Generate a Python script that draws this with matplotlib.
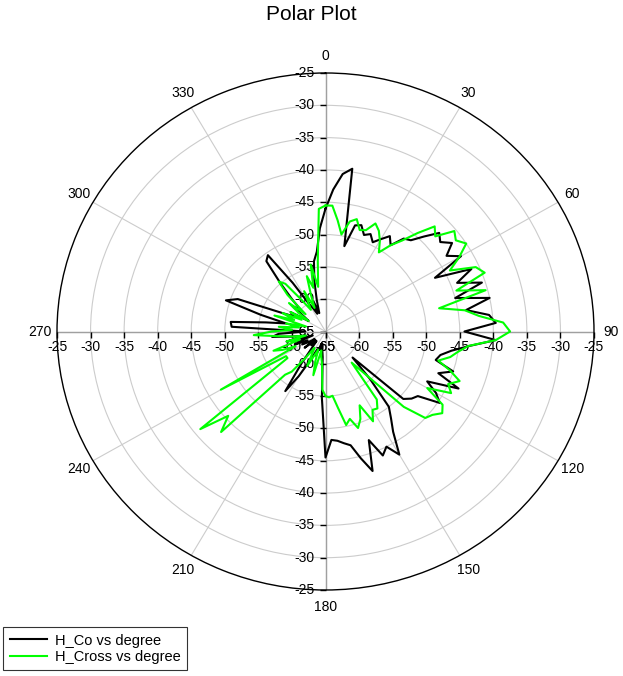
import numpy as np
import matplotlib.pyplot as plt

plt.rcParams['font.family'] = ['Liberation Sans', 'DejaVu Sans']

# angle in degrees, one sample every 3 degrees
degree = list(range(0, 360, 3))

h_co = [-46, -43, -40.5, -39.5, -51.5, -48, -47.7, -49, -48.5, -49.5,
        -48.5, -47.4, -48.5, -46.5, -46, -44.2, -42.2, -43, -41.7, -43.5,
        -41.7, -46.7, -41.2, -44, -40.5, -45, -40, -43.8, -40.5, -39.6,
        -44.3, -39.6, -43.5, -46, -47.5, -48, -45, -47, -43.3, -48,
        -46, -44.7, -48, -48.5, -49.4, -59.3, -55, -50, -48.4, -46.5,
        -43, -45, -44, -47, -42.3, -44.7, -47, -47.5, -48, -48.2,
        -45.5, -54.7, -61, -62, -63, -62, -63, -61, -62, -60,
        -57, -54, -59, -62, -63, -62, -63, -61, -63, -62,
        -61, -62, -60, -61, -63, -59, -62, -60, -57, -58,
        -62, -51, -50.8, -56, -59, -55, -49.4, -51, -58, -60,
        -59, -62, -61, -59, -60, -58, -55, -51, -50.4, -56,
        -60, -61, -62, -60, -62, -60, -57, -54, -52.6, -49]

h_cross = [-45.5, -45.5, -47.7, -49.8, -47.6, -47, -48.5, -48.2, -46.7, -47.5,
           -48.8, -50.4, -48.5, -46.9, -44.5, -42, -43, -40.3, -41, -40,
           -42, -44.2, -40.5, -39.6, -44.5, -40.3, -47.7, -44, -42, -38.5,
           -37.5, -39.6, -43.6, -45, -46, -47.6, -45.5, -43.6, -45, -44,
           -47.5, -44.2, -43.5, -44.5, -45, -48.5, -56, -58.8, -52, -50.8,
           -51, -49.4, -52.5, -50.5, -49.3, -51, -50.2, -53, -55, -54.8,
           -55, -56, -60, -61, -62, -58, -60, -62, -61, -59,
           -61, -62, -60, -57, -56, -43, -45.5, -41, -58, -58,
           -47, -60, -58, -56.7, -61, -59, -62, -60, -58, -54.3,
           -57, -60, -58, -61, -59, -62, -57, -60, -58, -61,
           -59, -62, -60, -58, -61, -57, -54.6, -55.5, -59, -61,
           -60, -58, -61, -59, -56, -58, -54.4, -58, -54, -46]

r_ticks = [-65, -60, -55, -50, -45, -40, -35, -30, -25]
theta_ticks = list(range(0, 360, 30))


def main():
    fig = plt.figure(figsize=(6.23, 6.76), dpi=100)
    ax = fig.add_axes([57 / 623, 86 / 676, 537 / 623, 517 / 676], projection='polar')
    ax.set_aspect('auto')
    ax.set_theta_zero_location('N')
    ax.set_theta_direction(-1)
    ax.set_ylim(r_ticks[0], r_ticks[-1])

    # grid
    ax.set_rgrids(r_ticks[1:-1], labels=[''] * (len(r_ticks) - 2))
    ax.set_thetagrids(theta_ticks, labels=[str(t) for t in theta_ticks], fontsize=10)
    ax.grid(True, color='#cccccc', lw=0.8)
    ax.tick_params(axis='x', direction='out', length=3, pad=2, color='black')
    ax.spines['polar'].set_color('black')
    ax.spines['polar'].set_linewidth(1.0)

    # the four axis lines with ticks and labels
    for th in [0, 90, 180, 270]:
        t = np.deg2rad(th)
        ax.plot([t, t], [r_ticks[0], r_ticks[-1]], color='#a0a0a0', lw=1.0, zorder=2)
        mk = 0 if th in (0, 180) else 3
        ax.plot([t] * len(r_ticks), r_ticks, ls='none', marker=mk, ms=4, mew=1.0,
                color='black', zorder=2, clip_on=False)
        for r in r_ticks:
            if th in (0, 180):
                ax.annotate(str(r), xy=(t, r), xytext=(-8, 0), textcoords='offset points',
                            ha='right', va='center', fontsize=10, zorder=2)
            else:
                ax.annotate(str(r), xy=(t, r), xytext=(0, -6), textcoords='offset points',
                            ha='center', va='top', fontsize=10, zorder=2)

    th_rad = np.deg2rad(degree + [degree[0]])
    l1, = ax.plot(th_rad, h_co + [h_co[0]], color='black', lw=1.5, zorder=3,
                  label='H_Co vs degree')
    l2, = ax.plot(th_rad, h_cross + [h_cross[0]], color='#00ff00', lw=1.5, zorder=4,
                  label='H_Cross vs degree')

    fig.text(0.5, 1 - 15 / 676, 'Polar Plot', ha='center', va='center', fontsize=15)

    leg = fig.legend(handles=[l1, l2], loc='upper left', bbox_to_anchor=(3 / 623, 1 - 627 / 676),
                     fontsize=10.5, frameon=True, fancybox=False, edgecolor='black',
                     borderaxespad=0, handlelength=2.6, handletextpad=0.5,
                     labelspacing=0.15, borderpad=0.45)
    leg.get_frame().set_linewidth(0.8)

    fig.savefig('out.png', dpi=100)


if __name__ == "__main__":
    main()
